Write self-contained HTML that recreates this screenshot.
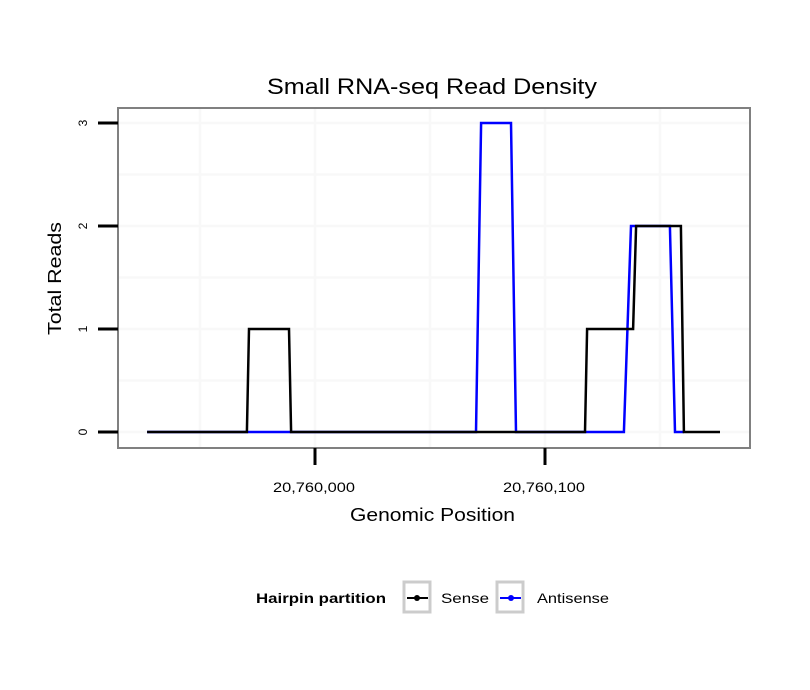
<!DOCTYPE html>
<html><head><meta charset="utf-8"><style>
body{margin:0;background:#fff;}
svg{display:block;font-family:"Liberation Sans",sans-serif;}
</style></head><body>
<svg id="chart" width="810" height="690">
<rect width="810" height="690" fill="#fff"/>
<text x="267" y="94" font-size="22" textLength="330" lengthAdjust="spacingAndGlyphs">Small RNA-seq Read Density</text>
<g id="grid"></g>
<g id="lines"></g>
<rect x="118" y="108" width="632" height="340" fill="none" stroke="#808080" stroke-width="2"/>
<g id="axes"></g>
<text x="350" y="521" font-size="18" textLength="165" lengthAdjust="spacingAndGlyphs">Genomic Position</text>
<text transform="translate(61,335) rotate(-90)" font-size="18" textLength="113" lengthAdjust="spacingAndGlyphs">Total Reads</text>
<g>
<text x="256" y="603" font-size="14" font-weight="bold" textLength="130" lengthAdjust="spacingAndGlyphs">Hairpin partition</text>
<g>
<rect x="404" y="582" width="26" height="30" fill="#fff" stroke="#ccc" stroke-width="3"/>
<line x1="407" y1="598" x2="428" y2="598" stroke="#000" stroke-width="2"/>
<circle cx="417" cy="598" r="3" fill="#000"/>
<text x="441" y="603" font-size="14" textLength="48" lengthAdjust="spacingAndGlyphs">Sense</text>
</g>
<g>
<rect x="497" y="582" width="26" height="30" fill="#fff" stroke="#ccc" stroke-width="3"/>
<line x1="500" y1="598" x2="521" y2="598" stroke="#00f" stroke-width="2"/>
<circle cx="511" cy="598" r="3" fill="#00f"/>
<text x="537" y="603" font-size="14" textLength="72" lengthAdjust="spacingAndGlyphs">Antisense</text>
</g>
</g>
</svg>
<script>
const base = 20760000;
const xTicks = [0, 100];
const xTickLabels = ["20,760,000", "20,760,100"];
const yTicks = [0, 1, 2, 3];
const senseX = [-73, -29.6, -28.7, -11.3, -10.4, 117.4, 118.3, 138.3, 139.6, 159.1, 160.4, 176.1];
const senseY = [0, 0, 1, 1, 0, 0, 1, 1, 2, 2, 0, 0];
const antiX = [-73, 70, 72.2, 85.2, 87.4, 134.3, 137.4, 154.3, 156.5, 160.4];
const antiY = [0, 0, 3, 3, 0, 0, 2, 2, 0, 0];

const xs = v => 315 + v * 2.3;
const ys = v => 432 - v * 103;
const NS = "http://www.w3.org/2000/svg";
function mk(tag, attrs, parent) {
  const e = document.createElementNS(NS, tag);
  for (const k in attrs) e.setAttribute(k, attrs[k]);
  parent.appendChild(e);
  return e;
}
const grid = document.getElementById('grid');
const axes = document.getElementById('axes');
for (let v = -50; v <= 180; v += 50) {
  const l = mk('line', {x1: xs(v), x2: xs(v), y1: 109, y2: 447, stroke: '#f8f8f8', 'stroke-width': 2.5}, grid);
  
  
}
for (let v = 0; v <= 3.1; v += 0.5) {
  const l = mk('line', {x1: 119, x2: 749, y1: ys(v), y2: ys(v), stroke: '#f8f8f8', 'stroke-width': 2.5}, grid);
  
  
}
xTicks.forEach((t, i) => {
  const l = mk('line', {x1: xs(t), x2: xs(t), y1: 448, y2: 465, stroke: '#000', 'stroke-width': 3}, axes);
  
  
  const tx = mk('text', {x: xs(t) - 42, y: 492, 'font-size': 14, textLength: 82, lengthAdjust: 'spacingAndGlyphs'}, axes);
  tx.textContent = xTickLabels[i];
  
  
});
yTicks.forEach(t => {
  const l = mk('line', {x1: 98, x2: 118, y1: ys(t), y2: ys(t), stroke: '#000', 'stroke-width': 3}, axes);
  
  
  const tx = mk('text', {transform: `translate(87,${ys(t)}) rotate(-90)`, 'font-size': 12, 'text-anchor': 'middle'}, axes);
  tx.textContent = String(t);
  
  
});
const lines = document.getElementById('lines');
function series(X, Y, color, name) {
  const d = X.map((x, i) => (i ? 'L' : 'M') + xs(x).toFixed(1) + ',' + ys(Y[i]).toFixed(1)).join(' ');
  const p = mk('path', {d: d, fill: 'none', stroke: color, 'stroke-width': 2.5, 'stroke-linejoin': 'miter'}, lines);
  
  
}
series(antiX, antiY, '#0000ff', 'antisense-line');
series(senseX, senseY, '#000000', 'sense-line');
</script>
</body></html>
